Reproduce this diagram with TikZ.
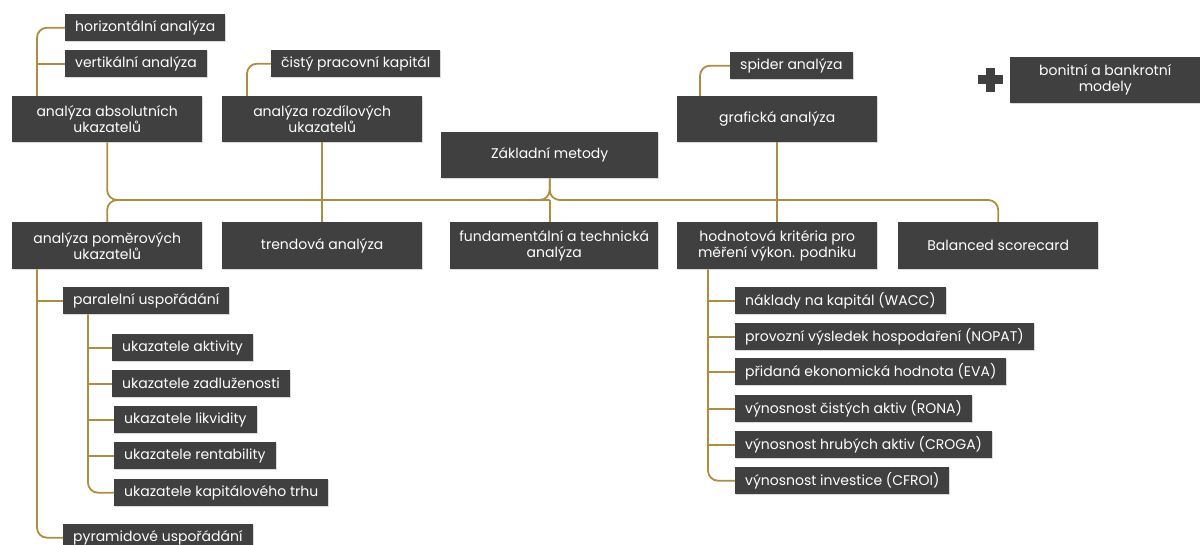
\documentclass[tikz,border=0pt]{standalone}
\usepackage{fontspec}
\setmainfont{Poppins}
\usetikzlibrary{calc,shadows}
\definecolor{boxgray}{HTML}{404040}
\definecolor{gold}{HTML}{B08D3C}

\begin{document}
\begin{tikzpicture}[x=1pt,y=-1pt,
        box/.style={fill=boxgray, text=white, anchor=north west, align=center,
          inner sep=2pt, font=\fontsize{14}{16}\selectfont,
          drop shadow={opacity=0.3, shadow xshift=1pt, shadow yshift=-1pt}},
        leaf/.style={box, minimum height=27pt, inner xsep=10pt},
        link/.style={draw=gold, line width=1.8pt, rounded corners=10pt}]
    \useasboundingbox (0,0) rectangle (1200,545);
    % top row
    \node[box, minimum width=190pt, minimum height=46pt] (abs) at (12,96) {analýza absolutních\\ukazatelů};
    \node[box, minimum width=200pt, minimum height=46pt] (rozd) at (222,96) {analýza rozdílových\\ukazatelů};
    \node[box, minimum width=217pt, minimum height=46pt] (zakl) at (441,132) {Základní metody};
    \node[box, minimum width=200pt, minimum height=46pt] (graf) at (677,96) {grafická analýza};
    \node[box, minimum width=190pt, minimum height=46pt] (bon) at (1010,57) {bonitní a bankrotní\\modely};
    \fill[boxgray] (986,68) rectangle (995,92);
    \fill[boxgray] (978,75.5) rectangle (1003,84.5);
    % bottom row
    \node[box, minimum width=190pt, minimum height=47pt] (pom) at (12,222) {analýza poměrových\\ukazatelů};
    \node[box, minimum width=200pt, minimum height=47pt] (trend) at (222,222) {trendová analýza};
    \node[box, minimum width=208pt, minimum height=47pt] (fund) at (450,222) {fundamentální a technická\\analýza};
    \node[box, minimum width=200pt, minimum height=47pt] (hodn) at (677,222) {hodnotová kritéria pro\\měření výkon. podniku};
    \node[box, minimum width=200pt, minimum height=47pt] (bal) at (898,222) {Balanced scorecard};
    % leaves
    \node[leaf] (hor) at (65,14) {horizontální analýza};
    \node[leaf] (vert) at (65,50) {vertikální analýza};
    \node[leaf] (cist) at (271,50) {čistý pracovní kapitál};
    \node[leaf] (spid) at (730,52) {spider analýza};
    \node[leaf] (par) at (63,287) {paralelní uspořádání};
    \node[leaf] (akt) at (112,334) {ukazatele aktivity};
    \node[leaf] (zad) at (112,370) {ukazatele zadluženosti};
    \node[leaf] (lik) at (114,406) {ukazatele likvidity};
    \node[leaf] (ren) at (114,442) {ukazatele rentability};
    \node[leaf] (kap) at (114,479) {ukazatele kapitálového trhu};
    \node[leaf] (pyr) at (63,524) {pyramidové uspořádání};
    \node[leaf] (wacc) at (735,287) {náklady na kapitál (WACC)};
    \node[leaf] (nopat) at (735,323) {provozní výsledek hospodaření (NOPAT)};
    \node[leaf] (eva) at (735,358) {přidaná ekonomická hodnota (EVA)};
    \node[leaf] (rona) at (735,395) {výnosnost čistých aktiv (RONA)};
    \node[leaf] (croga) at (735,431) {výnosnost hrubých aktiv (CROGA)};
    \node[leaf] (cfroi) at (735,467) {výnosnost investice (CFROI)};
    % connectors
    \coordinate (hub) at (zakl.south |- 0,200);
    \coordinate (abar) at ($(abs.north west)+(25,0)$);
    \coordinate (rbar) at ($(rozd.north west)+(25,0)$);
    \coordinate (gbar) at ($(graf.north west)+(23,0)$);
    \coordinate (mbar) at ($(pom.south west)+(25,0)$);
    \coordinate (pbar) at ($(par.south west)+(25,0)$);
    \coordinate (hbar) at ($(hodn.south west)+(31,0)$);
    \draw[link] (abar) |- (hor.west);
    \draw[link] (vert.west) -- (vert.west -| abar);
    \draw[link] (rbar) |- (cist.west);
    \draw[link] (gbar) |- (spid.west);
    \draw[link] (abs.south) |- (hub) -- (zakl.south);
    \draw[link] (bal.north) |- (hub) -- (zakl.south);
    \draw[link] (pom.north) |- (hub);
    \draw[link] (hub) -- (hub |- fund.north);
    \draw[link] (rozd.south) -- (rozd.south |- trend.north);
    \draw[link] (graf.south) -- (graf.south |- hodn.north);
    \draw[link] (mbar) |- (pyr.west);
    \draw[link] (par.west) -- (par.west -| mbar);
    \draw[link] (pbar) |- (kap.west);
    \foreach \n in {akt,zad,lik,ren}
        \draw[link] (\n.west) -- (\n.west -| pbar);
    \draw[link] (hbar) |- (cfroi.west);
    \foreach \n in {wacc,nopat,eva,rona,croga}
        \draw[link] (\n.west) -- (\n.west -| hbar);
\end{tikzpicture}
\end{document}
